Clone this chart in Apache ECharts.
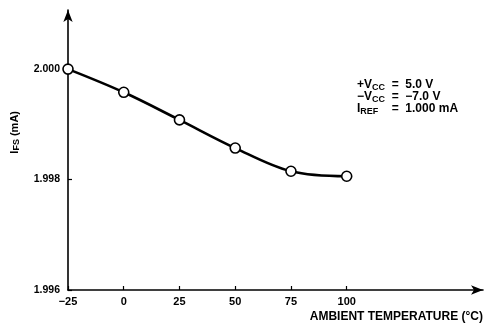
<!DOCTYPE html>
<html><head><meta charset="utf-8">
<script src="https://cdn.jsdelivr.net/npm/echarts@6/dist/echarts.min.js"></script>
<style>html,body{margin:0;padding:0;background:#fff}#c{width:485px;height:327px}</style>
</head><body><div id="c"></div>
<script>
var temps = [-25, 0, 25, 50, 75, 100];
var ifs = [2.0000, 1.99958, 1.99908, 1.99857, 1.99815, 1.99806];
var xTicks = [-25, 0, 25, 50, 75, 100];
var yTicks = [1.996, 1.998, 2.000];

var FONT = '"Liberation Sans", Arial, sans-serif';
var sub = {font: 'bold 9px ' + FONT, fill: '#000', padding: [5, 0, 0, 0]};
var chart = echarts.init(document.getElementById('c'));
chart.setOption({
  animation: false,
  backgroundColor: '#fff',
  grid: [
    {left: 68, right: 138.3, top: 10, bottom: 37},
    {left: 68, right: 2, top: 10, bottom: 37}
  ],
  xAxis: [{
    type: 'value', gridIndex: 0, min: -25, max: 100, interval: 25,
    axisLine: {show: false, onZero: false},
    axisTick: {show: true, inside: true, length: 4, lineStyle: {color: '#000', width: 1.2}},
    splitLine: {show: false},
    axisLabel: {color: '#000', fontFamily: FONT, fontWeight: 'bold', fontSize: 11, margin: 6,
      formatter: function (v) { return v < 0 ? '\u2212' + (-v) : String(v); }}
  }, {
    type: 'value', gridIndex: 1, min: 0, max: 1,
    axisLine: {show: true, onZero: false, symbol: ['none', 'arrow'], symbolSize: [7, 12], lineStyle: {color: '#000', width: 1.6}},
    axisTick: {show: false}, axisLabel: {show: false}, splitLine: {show: false}
  }],
  yAxis: [{
    type: 'value', gridIndex: 0, min: 1.996, max: 2.00107, interval: 0.002,
    axisLine: {show: true, onZero: false, symbol: ['none', 'arrow'], symbolSize: [7, 12], lineStyle: {color: '#000', width: 1.6}},
    axisTick: {show: true, inside: true, length: 4, lineStyle: {color: '#000', width: 1.2}},
    splitLine: {show: false},
    axisLabel: {color: '#000', fontFamily: FONT, fontWeight: 'bold', fontSize: 10.5, margin: 8, showMaxLabel: false,
      formatter: function (v) { return yTicks.some(function (t) { return Math.abs(t - v) < 1e-7; }) ? v.toFixed(3) : ''; }}
  }, {
    type: 'value', gridIndex: 1, min: 0, max: 1, show: false
  }],
  graphic: [
    {type: 'text', left: 9, top: 111, rotation: Math.PI / 2, originX: 0, originY: 0,
      style: {text: 'I{s|FS} (mA)', font: 'bold 11px ' + FONT, fill: '#000', rich: {s: sub}}},
    {type: 'text', x: 357, y: 78,
      style: {text: '+V{s|CC}  =  5.0 V', font: 'bold 12px ' + FONT, fill: '#000', rich: {s: sub}}},
    {type: 'text', x: 357, y: 90,
      style: {text: '\u2212V{s|CC}  =  \u22127.0 V', font: 'bold 12px ' + FONT, fill: '#000', rich: {s: sub}}},
    {type: 'text', x: 357, y: 102,
      style: {text: 'I{s|REF}    =  1.000 mA', font: 'bold 12px ' + FONT, fill: '#000', rich: {s: sub}}},
    {type: 'text', right: 2, top: 311,
      style: {text: 'AMBIENT TEMPERATURE (\u00B0C)', font: 'bold 12px ' + FONT, fill: '#000'}}
  ],
  series: [{
    type: 'line', xAxisIndex: 0, yAxisIndex: 0,
    data: temps.map(function (t, i) { return [t, ifs[i]]; }),
    smooth: 0.35,
    lineStyle: {color: '#000', width: 2.6},
    symbol: 'circle', symbolSize: 10,
    itemStyle: {color: '#fff', borderColor: '#000', borderWidth: 1.6},
    clip: false
  }]
});
</script></body></html>
